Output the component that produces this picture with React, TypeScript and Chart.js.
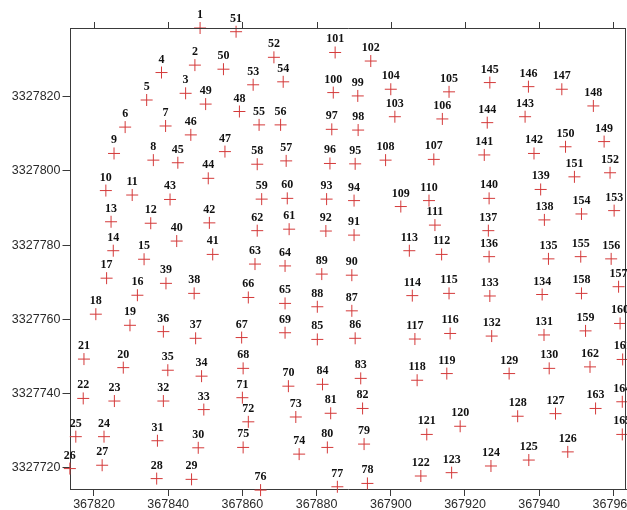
import { useEffect, useRef } from "react";
import { Chart, registerables } from "chart.js";

Chart.register(...registerables);

const pointLabels = [
  "1","2","3","4","5","6","7","8","9","10","11","12","13","14","15","16","17","18","19","20",
  "21","22","23","24","25","26","27","28","29","30","31","32","33","34","35","36","37","38","39","40",
  "41","42","43","44","45","46","47","48","49","50","51","52","53","54","55","56","57","58","59","60",
  "61","62","63","64","65","66","67","68","69","70","71","72","73","74","75","76","77","78","79","80",
  "81","82","83","84","85","86","87","88","89","90","91","92","93","94","95","96","97","98","99","100",
  "101","102","103","104","105","106","107","108","109","110","111","112","113","114","115","116","117","118","119","120",
  "121","122","123","124","125","126","127","128","129","130","131","132","133","134","135","136","137","138","139","140",
  "141","142","143","144","145","146","147","148","149","150","151","152","153","154","155","156","157","158","159","160",
  "161","162","163","164","165",
];

const eastings = [
  367848.6, 367847.2, 367844.7, 367838.2, 367834.2, 367828.4, 367839.3, 367836.0, 367825.4, 367823.2,
  367830.3, 367835.3, 367824.6, 367825.2, 367833.5, 367831.7, 367823.4, 367820.5, 367829.7, 367827.9,
  367817.3, 367817.1, 367825.5, 367822.7, 367815.1, 367813.5, 367822.2, 367836.9, 367846.3, 367848.1,
  367837.1, 367838.7, 367849.6, 367849.0, 367839.9, 367838.7, 367847.4, 367847.0, 367839.4, 367842.3,
  367852.0, 367851.1, 367840.5, 367850.8, 367842.6, 367846.1, 367855.3, 367859.2, 367850.1, 367854.9,
  367858.3, 367868.5, 367862.9, 367871.0, 367864.5, 367870.3, 367871.8, 367864.0, 367865.2, 367872.1,
  367872.6, 367864.0, 367863.4, 367871.5, 367871.5, 367861.6, 367859.8, 367860.2, 367871.5, 367872.4,
  367860.0, 367861.6, 367874.4, 367875.3, 367860.2, 367864.9, 367885.6, 367893.7, 367892.8, 367882.9,
  367883.8, 367892.4, 367891.9, 367881.6, 367880.2, 367890.4, 367889.5, 367880.2, 367881.4, 367889.5,
  367890.1, 367882.5, 367882.7, 367890.1, 367890.4, 367883.6, 367884.1, 367891.2, 367891.1, 367884.5,
  367885.0, 367894.6, 367901.1, 367900.0, 367915.7, 367913.9, 367911.6, 367898.6, 367902.7, 367910.3,
  367911.9, 367913.7, 367905.0, 367905.8, 367915.7, 367916.0, 367906.5, 367907.1, 367915.1, 367918.7,
  367909.7, 367908.1, 367916.4, 367927.0, 367937.2, 367947.7, 367944.4, 367934.2, 367931.9, 367942.7,
  367941.3, 367927.2, 367926.7, 367940.8, 367942.5, 367926.5, 367926.3, 367941.4, 367940.4, 367926.5,
  367925.2, 367938.6, 367936.2, 367926.0, 367926.7, 367937.1, 367946.1, 367954.6, 367957.5, 367947.1,
  367949.5, 367959.1, 367960.2, 367951.4, 367951.2, 367959.4, 367961.4, 367951.4, 367952.5, 367961.8,
  367962.5, 367953.7, 367955.2, 367962.4, 367962.4,
];

const northings = [
  3327838.5, 3327828.5, 3327820.9, 3327826.5, 3327819.1, 3327811.8, 3327812.1, 3327802.9, 3327804.7, 3327794.7,
  3327793.5, 3327785.9, 3327786.3, 3327778.5, 3327776.2, 3327766.5, 3327771.1, 3327761.4, 3327758.4, 3327747.0,
  3327749.3, 3327738.7, 3327738.0, 3327728.4, 3327728.4, 3327719.8, 3327720.7, 3327717.1, 3327716.9, 3327725.4,
  3327727.3, 3327738.0, 3327735.7, 3327744.7, 3327746.3, 3327756.7, 3327754.9, 3327767.0, 3327769.7, 3327781.1,
  3327777.5, 3327786.0, 3327792.3, 3327798.0, 3327802.2, 3327809.7, 3327805.2, 3327816.0, 3327818.0, 3327827.4,
  3327837.5, 3327830.6, 3327823.2, 3327824.0, 3327812.4, 3327812.4, 3327802.7, 3327801.8, 3327792.4, 3327792.6,
  3327784.3, 3327783.9, 3327774.9, 3327774.4, 3327764.3, 3327765.9, 3327755.1, 3327746.8, 3327756.4, 3327742.0,
  3327738.9, 3327732.4, 3327733.7, 3327723.7, 3327725.5, 3327714.0, 3327714.9, 3327715.8, 3327726.4, 3327725.5,
  3327734.7, 3327736.0, 3327744.1, 3327742.5, 3327754.6, 3327754.9, 3327762.3, 3327763.4, 3327772.2, 3327771.9,
  3327782.7, 3327783.8, 3327792.4, 3327792.0, 3327801.9, 3327802.0, 3327811.2, 3327811.0, 3327820.2, 3327821.1,
  3327831.9, 3327829.6, 3327814.6, 3327822.0, 3327821.3, 3327814.0, 3327803.1, 3327802.9, 3327790.4, 3327792.0,
  3327785.4, 3327777.5, 3327778.5, 3327766.4, 3327767.0, 3327756.2, 3327754.7, 3327743.6, 3327745.4, 3327731.2,
  3327729.0, 3327717.8, 3327718.7, 3327720.5, 3327722.1, 3327724.3, 3327734.6, 3327733.9, 3327745.4, 3327746.8,
  3327755.8, 3327755.5, 3327766.3, 3327766.7, 3327776.3, 3327776.9, 3327783.9, 3327786.8, 3327795.0, 3327792.6,
  3327804.3, 3327804.7, 3327814.6, 3327813.0, 3327823.8, 3327822.7, 3327822.0, 3327817.5, 3327807.9, 3327806.5,
  3327798.4, 3327799.5, 3327789.3, 3327788.4, 3327776.9, 3327776.3, 3327768.8, 3327767.0, 3327756.9, 3327758.9,
  3327749.2, 3327747.2, 3327736.0, 3327737.8, 3327729.0,
];

const xTickValues = [367820, 367840, 367860, 367880, 367900, 367920, 367940, 367960];
const yTickValues = [3327720, 3327740, 3327760, 3327780, 3327800, 3327820];

const X_MIN = 367813.67;
const X_MAX = 367963.4;
const Y_MIN = 3327714.3;
const Y_MAX = 3327838.5;

const AXIS_COLOR = "#3a3a3a";
const MARK_COLOR = "rgb(212,58,58)";

const framePlugin = {
  id: "frameAndLabels",
  afterDatasetsDraw(chart: any) {
    const { ctx, chartArea, scales } = chart;
    const xs = scales.x;
    ctx.save();
    ctx.strokeStyle = AXIS_COLOR;
    ctx.lineWidth = 1;
    ctx.beginPath();
    ctx.moveTo(chartArea.left, Math.round(chartArea.top) + 0.5);
    ctx.lineTo(chartArea.right, Math.round(chartArea.top) + 0.5);
    ctx.moveTo(Math.round(chartArea.right) - 0.5, chartArea.top);
    ctx.lineTo(Math.round(chartArea.right) - 0.5, chartArea.bottom);
    for (const v of xTickValues) {
      const px = Math.round(xs.getPixelForValue(v)) + 0.5;
      ctx.moveTo(px, chartArea.top);
      ctx.lineTo(px, chartArea.top - 6);
    }
    ctx.stroke();

    const meta = chart.getDatasetMeta(0);
    ctx.fillStyle = "#111";
    ctx.font = "bold 12px 'Liberation Serif', 'Times New Roman', serif";
    ctx.textAlign = "center";
    ctx.textBaseline = "alphabetic";
    meta.data.forEach((el: any, i: number) => {
      ctx.fillText(pointLabels[i], el.x, el.y - 10);
    });
    ctx.restore();
  },
};

export default function App() {
  const canvasRef = useRef<HTMLCanvasElement | null>(null);

  useEffect(() => {
    document.body.style.margin = "0";
    const canvas = canvasRef.current;
    if (!canvas) return;
    const data = eastings.map((x, i) => ({ x, y: northings[i] }));
    const tickFont = { family: "'Liberation Sans', Arial, sans-serif", size: 12.5 };
    const chart = new Chart(canvas, {
      type: "scatter",
      data: {
        datasets: [
          {
            data,
            pointStyle: "cross",
            pointRadius: 6,
            pointHoverRadius: 6,
            borderColor: MARK_COLOR,
            backgroundColor: MARK_COLOR,
            borderWidth: 1,
            clip: false as any,
          },
        ],
      },
      options: {
        responsive: false,
        animation: false,
        events: [],
        layout: { autoPadding: false, padding: { top: 28, right: 1, left: 0, bottom: 0 } },
        plugins: {
          legend: { display: false },
          tooltip: { enabled: false },
        },
        scales: {
          x: {
            type: "linear",
            position: "bottom",
            min: X_MIN,
            max: X_MAX,
            afterBuildTicks: (scale: any) => {
              scale.ticks = xTickValues.map((value) => ({ value }));
            },
            afterFit: (scale: any) => {
              scale.height = 21;
              scale.paddingLeft = 0;
              scale.paddingRight = 0;
            },
            ticks: {
              color: "#2a2a2a",
              font: tickFont,
              padding: 1,
              maxRotation: 0,
              autoSkip: false,
              callback: (v: any) => String(v),
            },
            grid: {
              display: true,
              drawOnChartArea: false,
              drawTicks: true,
              tickLength: 7,
              color: AXIS_COLOR,
            },
            border: { display: true, color: AXIS_COLOR, width: 1 },
          },
          y: {
            type: "linear",
            position: "left",
            min: Y_MIN,
            max: Y_MAX,
            afterBuildTicks: (scale: any) => {
              scale.ticks = yTickValues.map((value) => ({ value }));
            },
            afterFit: (scale: any) => {
              scale.width = 70.5;
              scale.paddingTop = 0;
              scale.paddingBottom = 0;
            },
            ticks: {
              color: "#2a2a2a",
              font: tickFont,
              padding: 2,
              autoSkip: false,
              callback: (v: any) => String(v),
            },
            grid: {
              display: true,
              drawOnChartArea: false,
              drawTicks: true,
              tickLength: 8,
              color: AXIS_COLOR,
            },
            border: { display: true, color: AXIS_COLOR, width: 1 },
          },
        },
      },
      plugins: [framePlugin],
    });
    return () => chart.destroy();
  }, []);

  return (
    <div style={{ width: 627, height: 510, background: "#fff" }}>
      <canvas ref={canvasRef} width={627} height={510} style={{ display: "block" }} />
    </div>
  );
}
